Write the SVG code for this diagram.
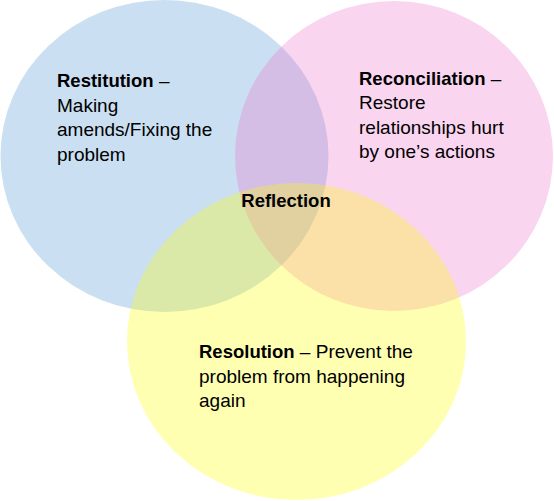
<svg xmlns="http://www.w3.org/2000/svg" width="554" height="501" viewBox="0 0 554 501">
  <style>
    .t { font-family: "Liberation Sans", Arial, sans-serif; font-size: 19px; fill: #000; }
    .b { font-weight: bold; font-size: 18.5px; }
  </style>
  <rect x="0" y="0" width="554" height="501" fill="#ffffff"/>
  <g id="restitution">
    <ellipse cx="164.5" cy="156" rx="164" ry="156" fill="#5B9BD5" fill-opacity="0.32"/>
    <text class="t" x="57" y="87"><tspan class="b">Restitution</tspan> –</text>
    <text class="t" x="57" y="111.5">Making</text>
    <text class="t" x="57" y="136">amends/Fixing the</text>
    <text class="t" x="57" y="160.5">problem</text>
  </g>
  <g id="reconciliation">
    <ellipse cx="394" cy="156" rx="159" ry="155" fill="#EB73CD" fill-opacity="0.3"/>
    <text class="t" x="359" y="84.5"><tspan class="b">Reconciliation</tspan> –</text>
    <text class="t" x="359" y="109">Restore</text>
    <text class="t" x="359" y="133.5">relationships hurt</text>
    <text class="t" x="359" y="158">by one’s actions</text>
  </g>
  <g id="resolution">
    <ellipse cx="296.5" cy="341.5" rx="169.5" ry="158.5" fill="#FFFF00" fill-opacity="0.3"/>
    <text class="t" x="199" y="358"><tspan class="b">Resolution</tspan> – Prevent the</text>
    <text class="t" x="199" y="382.5">problem from happening</text>
    <text class="t" x="199" y="407">again</text>
  </g>
  <g id="reflection">
    <text class="t b" x="286" y="207" text-anchor="middle">Reflection</text>
  </g>
</svg>
